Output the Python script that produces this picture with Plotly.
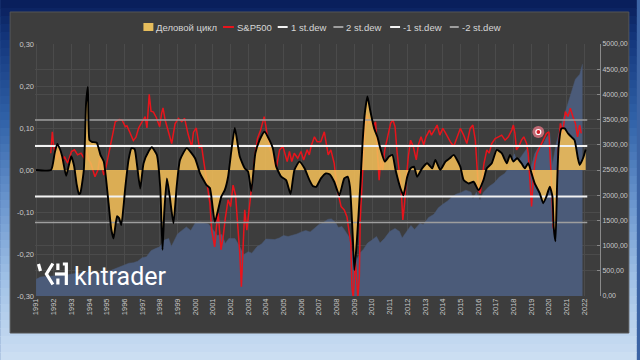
import plotly.graph_objects as go

# ---------------- data ----------------
years = list(range(1991, 2023))
year_labels = [str(y) for y in years]

left_ticks = [-0.3, -0.2, -0.1, 0.0, 0.1, 0.2, 0.3]
left_labels = ["-0,30", "-0,20", "-0,10", "0,00", "0,10", "0,20", "0,30"]
right_ticks = list(range(0, 5001, 500))
right_labels = [f"{v},00" for v in right_ticks]

# business cycle (Деловой цикл)
cycle_x = [1991.0, 1991.85, 1992.05, 1992.2, 1992.35, 1992.48, 1992.7, 1992.85, 1992.99, 1993.15,
           1993.3, 1993.42, 1993.5, 1993.7, 1993.83, 1993.93, 1994.02, 1994.15, 1994.43, 1994.64,
           1994.83, 1995.1, 1995.25, 1995.38, 1995.58, 1995.7, 1995.82, 1996.05, 1996.23, 1996.4,
           1996.57, 1996.7, 1996.89, 1997.08, 1997.36, 1997.55, 1997.83, 1998.02, 1998.15, 1998.25,
           1998.4, 1998.55, 1998.77, 1998.95, 1999.14, 1999.52, 1999.99, 2000.27, 2000.64, 2000.83,
           2001.11, 2001.48, 2001.67, 2001.86, 2002.05, 2002.24, 2002.52, 2002.8, 2002.99, 2003.17,
           2003.4, 2003.64, 2003.92, 2004.2, 2004.39, 2004.58, 2004.86, 2005.14, 2005.39, 2005.61,
           2005.89, 2006.18, 2006.46, 2006.65, 2006.84, 2007.11, 2007.39, 2007.6, 2007.86, 2008.15,
           2008.43, 2008.62, 2008.75, 2008.91, 2009.0, 2009.14, 2009.33, 2009.46, 2009.59, 2009.74,
           2009.89, 2010.12, 2010.3, 2010.49, 2010.72, 2010.96, 2011.15, 2011.33, 2011.61, 2011.77,
           2011.99, 2012.18, 2012.37, 2012.55, 2012.83, 2013.12, 2013.4, 2013.58, 2013.86, 2014.15,
           2014.4, 2014.62, 2014.99, 2015.18, 2015.46, 2015.74, 2016.02, 2016.3, 2016.49, 2016.77,
           2017.05, 2017.33, 2017.62, 2017.8, 2017.99, 2018.2, 2018.45, 2018.64, 2018.83, 2019.02,
           2019.2, 2019.49, 2019.68, 2019.86, 2020.05, 2020.2, 2020.27, 2020.37, 2020.46, 2020.55,
           2020.71, 2020.89, 2021.08, 2021.27, 2021.45, 2021.64, 2021.74, 2021.93, 2022.08]
cycle_y = [0.0, 0.0, 0.04, 0.062, 0.05, 0.032, -0.014, 0.01, 0.033, 0.01,
           -0.035, -0.057, -0.055, 0.0, 0.16, 0.198, 0.071, 0.067, 0.065, 0.036,
           0.02, -0.079, -0.14, -0.163, -0.11, -0.115, -0.131, -0.04, 0.024, 0.052,
           0.05, 0.015, -0.044, 0.016, 0.044, 0.054, 0.036, -0.04, -0.19, -0.1,
           -0.02, -0.06, -0.127, -0.04, 0.024, 0.052, 0.028, -0.008, -0.036, -0.043,
           -0.123, -0.063, -0.048, -0.016, 0.048, 0.1, 0.032, 0.004, -0.004, -0.05,
           0.04, 0.071, 0.091, 0.071, 0.052, 0.008, -0.016, -0.024, -0.057, 0.0,
           0.02, 0.004, -0.024, -0.038, -0.04, -0.02, -0.008, -0.01, -0.028, -0.06,
           -0.02, -0.016, -0.04, -0.159, -0.238, -0.17, -0.04, 0.063, 0.135, 0.175,
           0.143, 0.099, 0.079, 0.048, 0.02, 0.032, 0.036, 0.0, -0.044, -0.06,
           -0.016, 0.004, 0.008, -0.016, 0.004, 0.016, 0.004, 0.024, 0.0, 0.02,
           0.028, 0.036, 0.008, -0.024, -0.032, -0.028, -0.048, -0.024, 0.004, 0.016,
           0.048, 0.04, 0.016, 0.036, 0.02, 0.028, 0.016, 0.004, 0.016, -0.008,
           -0.032, -0.056, -0.079, -0.063, -0.04, -0.063, -0.135, -0.17, -0.04, 0.056,
           0.099, 0.099, 0.087, 0.079, 0.071, 0.028, 0.012, 0.028, 0.049]

# S&P500 change (red line, left axis)
spx_chg_x = [1991.83, 1991.92, 1992.0, 1992.2, 1992.3, 1992.43, 1992.6, 1992.79, 1993.0, 1993.17,
             1993.35, 1993.54, 1993.72, 1993.85, 1993.97, 1994.1, 1994.33, 1994.5, 1994.6, 1994.7,
             1994.83, 1994.97, 1995.1, 1995.29, 1995.48, 1995.7, 1995.86, 1996.05, 1996.14, 1996.3,
             1996.5, 1996.65, 1996.8, 1997.0, 1997.17, 1997.27, 1997.4, 1997.5, 1997.64, 1997.8,
             1997.99, 1998.1, 1998.18, 1998.3, 1998.5, 1998.67, 1998.86, 1999.05, 1999.24, 1999.4,
             1999.6, 1999.8, 1999.9, 2000.06, 2000.24, 2000.35, 2000.5, 2000.65, 2000.83, 2000.93,
             2001.1, 2001.2, 2001.3, 2001.46, 2001.58, 2001.7, 2001.86, 2002.0, 2002.14, 2002.28,
             2002.42, 2002.52, 2002.61, 2002.7, 2002.8, 2002.92, 2003.05, 2003.23, 2003.37, 2003.52,
             2003.7, 2003.9, 2004.0, 2004.1, 2004.25, 2004.4, 2004.58, 2004.77, 2004.96, 2005.05,
             2005.2, 2005.33, 2005.46, 2005.6, 2005.8, 2005.98, 2006.13, 2006.33, 2006.45, 2006.55,
             2006.74, 2006.9, 2007.1, 2007.3, 2007.42, 2007.52, 2007.67, 2007.86, 2008.0, 2008.15,
             2008.25, 2008.43, 2008.58, 2008.8, 2008.86, 2008.94, 2009.05, 2009.2, 2009.28, 2009.33,
             2009.46, 2009.59, 2009.7, 2009.83, 2009.96, 2010.08, 2010.2, 2010.3, 2010.4, 2010.49,
             2010.6, 2010.72, 2010.9, 2011.05, 2011.18, 2011.3, 2011.42, 2011.55, 2011.65, 2011.74,
             2011.84, 2011.93, 2012.05, 2012.18, 2012.33, 2012.5, 2012.62, 2012.77, 2012.92, 2013.05,
             2013.25, 2013.36, 2013.5, 2013.68, 2013.83, 2014.0, 2014.13, 2014.27, 2014.43, 2014.62,
             2014.8, 2014.99, 2015.18, 2015.36, 2015.55, 2015.7, 2015.84, 2015.93, 2016.02, 2016.12,
             2016.2, 2016.33, 2016.49, 2016.62, 2016.77, 2016.96, 2017.15, 2017.33, 2017.52, 2017.71,
             2017.9, 2017.99, 2018.08, 2018.17, 2018.3, 2018.45, 2018.58, 2018.74, 2018.83, 2018.92,
             2019.02, 2019.1, 2019.2, 2019.33, 2019.49, 2019.68, 2019.86, 2020.0, 2020.14, 2020.24,
             2020.33, 2020.43, 2020.53, 2020.65, 2020.78, 2020.93, 2021.08, 2021.21, 2021.36, 2021.5,
             2021.62, 2021.74, 2021.83]
spx_chg_y = [0.04, 0.091, 0.055, 0.024, 0.048, 0.016, 0.032, 0.016, 0.044, 0.048,
             0.036, 0.04, 0.028, 0.048, 0.024, 0.016, -0.016, 0.0, 0.028, 0.01,
             -0.012, 0.01, 0.036, 0.079, 0.115, 0.12, 0.119, 0.103, 0.105, 0.09,
             0.07, 0.078, 0.1, 0.115, 0.127, 0.1, 0.18, 0.14, 0.138, 0.125,
             0.103, 0.135, 0.148, 0.119, 0.087, 0.063, 0.11, 0.123, 0.115, 0.123,
             0.085, 0.055, 0.09, 0.1, 0.052, 0.06, 0.016, -0.024, -0.079, -0.143,
             -0.183, -0.135, -0.103, -0.19, -0.159, -0.115, -0.071, -0.087, -0.036, -0.06,
             -0.135, -0.198, -0.278, -0.206, -0.095, -0.143, -0.087, -0.024, 0.032, 0.075,
             0.095, 0.127, 0.103, 0.075, 0.048, 0.024, 0.004, 0.048, 0.056, 0.04,
             0.02, 0.044, 0.02, 0.04, 0.028, 0.044, 0.024, 0.048, 0.036, 0.056,
             0.079, 0.067, 0.067, 0.091, 0.06, 0.036, 0.048, 0.016, -0.04, -0.071,
             -0.087, -0.095, -0.111, -0.175, -0.278, -0.305, -0.21, -0.305, -0.254, -0.119,
             0.0, 0.095, 0.131, 0.111, 0.123, 0.103, 0.115, 0.04, -0.024, 0.024,
             0.0, 0.048, 0.079, 0.111, 0.119, 0.103, 0.04, -0.008, -0.048, -0.119,
             -0.079, -0.024, 0.032, 0.071, 0.056, 0.024, 0.06, 0.079, 0.06, 0.079,
             0.095, 0.083, 0.095, 0.107, 0.083, 0.099, 0.09, 0.079, 0.067, 0.056,
             0.079, 0.099, 0.083, 0.063, 0.099, 0.107, 0.071, 0.0, -0.048, -0.056,
             -0.024, 0.016, 0.048, 0.04, 0.063, 0.075, 0.079, 0.083, 0.071, 0.079,
             0.095, 0.107, 0.087, 0.048, 0.056, 0.071, 0.079, 0.063, 0.04, -0.024,
             -0.087, -0.032, 0.016, 0.04, 0.056, 0.071, 0.087, 0.091, -0.024, -0.135,
             -0.151, -0.071, 0.048, 0.111, 0.087, 0.139, 0.127, 0.147, 0.127, 0.111,
             0.079, 0.107, 0.087]

# S&P500 level (blue area, right axis)
spx_x = [1991.0, 1991.25, 1991.5, 1991.75, 1992.0, 1992.25, 1992.5, 1992.75, 1993.0, 1993.25,
         1993.5, 1993.75, 1994.0, 1994.25, 1994.5, 1994.75, 1995.0, 1995.25, 1995.5, 1995.75,
         1996.0, 1996.25, 1996.5, 1996.75, 1997.0, 1997.25, 1997.5, 1997.75, 1998.0, 1998.25,
         1998.5, 1998.65, 1998.75, 1999.0, 1999.25, 1999.5, 1999.75, 2000.0, 2000.25, 2000.5,
         2000.75, 2001.0, 2001.25, 2001.5, 2001.7, 2001.9, 2002.25, 2002.5, 2002.75, 2003.0,
         2003.2, 2003.5, 2003.75, 2004.0, 2004.25, 2004.5, 2004.75, 2005.0, 2005.25, 2005.5,
         2005.75, 2006.0, 2006.25, 2006.5, 2006.75, 2007.0, 2007.25, 2007.5, 2007.7, 2007.9,
         2008.1, 2008.3, 2008.5, 2008.7, 2008.85, 2009.0, 2009.17, 2009.35, 2009.5, 2009.75,
         2010.0, 2010.25, 2010.45, 2010.7, 2011.0, 2011.3, 2011.55, 2011.7, 2011.9, 2012.2,
         2012.4, 2012.7, 2012.9, 2013.2, 2013.5, 2013.75, 2014.0, 2014.25, 2014.5, 2014.75,
         2015.0, 2015.3, 2015.6, 2015.7, 2015.9, 2016.1, 2016.3, 2016.6, 2016.9, 2017.2,
         2017.5, 2017.8, 2018.05, 2018.2, 2018.5, 2018.75, 2018.95, 2019.2, 2019.4, 2019.6,
         2019.85, 2020.05, 2020.2, 2020.4, 2020.6, 2020.85, 2021.0, 2021.25, 2021.5, 2021.75,
         2021.9]
spx_y = [330, 375, 385, 390, 410, 410, 420, 415, 435, 445,
         450, 460, 475, 450, 455, 465, 465, 510, 550, 585,
         615, 650, 660, 690, 760, 780, 900, 940, 975, 1110,
         1140, 980, 1050, 1230, 1300, 1370, 1300, 1450, 1470, 1450,
         1430, 1320, 1200, 1220, 1040, 1140, 1140, 990, 820, 880,
         850, 980, 1030, 1130, 1130, 1120, 1150, 1200, 1180, 1200,
         1230, 1270, 1300, 1270, 1350, 1420, 1460, 1520, 1530, 1470,
         1360, 1380, 1280, 1170, 900, 860, 740, 870, 920, 1050,
         1110, 1180, 1050, 1140, 1280, 1340, 1280, 1150, 1250, 1400,
         1320, 1440, 1420, 1560, 1620, 1750, 1820, 1880, 1960, 2020,
         2050, 2100, 2060, 1920, 2060, 1900, 2060, 2170, 2240, 2360,
         2430, 2580, 2820, 2650, 2800, 2920, 2500, 2820, 2950, 2950,
         3140, 3230, 2600, 3000, 3280, 3550, 3720, 4000, 4300, 4400,
         4600]

# standard-deviation bands
stdev_x = [1990.94, 2022.17]
stdev_1 = 0.057
stdev_2 = 0.119
stdev_m1 = -0.063
stdev_m2 = -0.125

# ---------------- geometry helpers (layout only) ----------------
W, H = 640, 360
L, R, T, B = 35, 603, 44, 296


def px(xp):
    return (xp - L) / (R - L)


def py(yp):
    return (B - yp) / (B - T)


YELLOW = "rgba(246,192,88,0.86)"
RED = "#e8141c"
WHITE = "#f2f2f2"
GREY = "#9e9e9e"
BLUE = "#4b5b79"
PANEL = "#3d3d3d"
TXT = "#c8c8c8"

fig = go.Figure()

fig.add_trace(go.Scatter(x=spx_x, y=spx_y, yaxis="y", mode="lines", fill="tozeroy",
                         fillcolor=BLUE, line=dict(color=BLUE, width=0.5), name="S&P500 level"))
fig.add_trace(go.Scatter(x=spx_chg_x, y=spx_chg_y, yaxis="y2", mode="lines",
                         line=dict(color=RED, width=1.5), name="S&P500"))
fig.add_trace(go.Scatter(x=cycle_x, y=cycle_y, yaxis="y2", mode="lines", fill="tozeroy",
                         fillcolor=YELLOW, line=dict(width=0, shape="spline", smoothing=0.5),
                         name="Деловой цикл"))
fig.add_trace(go.Scatter(x=stdev_x, y=[stdev_2] * 2, yaxis="y2", mode="lines",
                         line=dict(color=GREY, width=1.5), name="2 st.dew"))
fig.add_trace(go.Scatter(x=stdev_x, y=[stdev_1] * 2, yaxis="y2", mode="lines",
                         line=dict(color=WHITE, width=2), name="1 st.dew"))
fig.add_trace(go.Scatter(x=stdev_x, y=[stdev_m1] * 2, yaxis="y2", mode="lines",
                         line=dict(color=WHITE, width=2), name="-1 st.dew"))
fig.add_trace(go.Scatter(x=stdev_x, y=[stdev_m2] * 2, yaxis="y2", mode="lines",
                         line=dict(color=GREY, width=1.5), name="-2 st.dew"))
fig.add_trace(go.Scatter(x=cycle_x, y=cycle_y, yaxis="y2", mode="lines",
                         line=dict(color="#000000", width=1.9, shape="spline", smoothing=0.5),
                         name="Деловой цикл (line)"))

# ---------------- background: gradient + dark panel ----------------
shapes = []
stops = [(0, (8, 28, 88)), (40, (20, 55, 125)), (120, (48, 98, 168)),
         (200, (105, 148, 205)), (280, (160, 193, 230)), (360, (205, 223, 243))]


def grad(yv):
    for (y0, c0), (y1, c1) in zip(stops[:-1], stops[1:]):
        if y0 <= yv <= y1:
            t = (yv - y0) / (y1 - y0)
            return "rgb(%d,%d,%d)" % tuple(round(a + (b - a) * t) for a, b in zip(c0, c1))
    return "rgb(205,223,243)"


step = 8
for ys in range(0, H, step):
    shapes.append(dict(type="rect", xref="paper", yref="paper", layer="below",
                       x0=px(0), x1=px(W), y0=py(ys + step + 0.5), y1=py(ys),
                       fillcolor=grad(ys + step / 2), line=dict(width=0)))
shapes.append(dict(type="rect", xref="paper", yref="paper", layer="below",
                   x0=px(10), x1=px(632), y0=py(333), y1=py(12),
                   fillcolor=PANEL, line=dict(color="#555555", width=1)))

# ---------------- custom legend ----------------
annotations = []
leg_y = 27
shapes.append(dict(type="rect", xref="paper", yref="paper", x0=px(144), x1=px(154),
                   y0=py(31), y1=py(23), fillcolor="#e6bd5c", line=dict(width=0)))
legend_items = [
    (155, "Деловой цикл", None, None),
    (236, "S&P500", (224, 235), RED),
    (290, "1 st.dew", (279, 289), WHITE),
    (346, "2 st.dew", (335, 345), GREY),
    (403, "-1 st.dew", (392, 402), WHITE),
    (462, "-2 st.dew", (452, 461), GREY),
]
for tx, label, seg, col in legend_items:
    if seg:
        shapes.append(dict(type="line", xref="paper", yref="paper", x0=px(seg[0]), x1=px(seg[1]),
                           y0=py(leg_y), y1=py(leg_y), line=dict(color=col, width=2)))
    annotations.append(dict(xref="paper", yref="paper", x=px(tx), y=py(leg_y), text=label,
                            showarrow=False, xanchor="left", yanchor="middle",
                            font=dict(family="Liberation Sans", size=9.5, color="#d6d6d6")))

# ---------------- logo ----------------
icon_paths = [
    [(38.5, 264), (40.5, 271)],
    [(53, 263.5), (46.5, 274), (53, 284.5)],
    [(58, 263.5), (58, 270)],
    [(58, 278.5), (58, 284.5)],
    [(55, 274), (66, 274)],
    [(63, 264), (66.5, 264), (66.5, 285)],
]
for pts in icon_paths:
    d = "M " + " L ".join(f"{px(a):.5f},{py(b):.5f}" for a, b in pts)
    shapes.append(dict(type="path", xref="paper", yref="paper", path=d,
                       line=dict(color="white", width=3.2)))
annotations.append(dict(xref="paper", yref="paper", x=px(72), y=py(276), text="khtrader",
                        showarrow=False, xanchor="left", yanchor="middle",
                        font=dict(family="Roboto", size=25, color="white")))

# cursor highlight
shapes.append(dict(type="circle", xref="paper", yref="paper", x0=px(535), x1=px(547),
                   y0=py(138), y1=py(126), fillcolor="rgba(235,120,135,0.75)",
                   line=dict(width=0)))
shapes.append(dict(type="circle", xref="paper", yref="paper", x0=px(538.5), x1=px(543.5),
                   y0=py(134.5), y1=py(129.5), fillcolor="#d0202a",
                   line=dict(color="white", width=1.2)))

fig.update_layout(
    width=W, height=H,
    margin=dict(l=L, r=W - R, t=T, b=H - B, pad=0),
    paper_bgcolor="rgb(60,100,165)",
    plot_bgcolor="rgba(0,0,0,0)",
    showlegend=False,
    shapes=shapes,
    annotations=annotations,
    font=dict(family="Liberation Sans", color=TXT),
    xaxis=dict(range=[1990.94, 2022.89], tickvals=years, ticktext=year_labels,
               tickangle=-90, tickfont=dict(size=7.5, color=TXT), showgrid=True,
               gridcolor="#4b4b4b", gridwidth=1, zeroline=False, showline=False, ticks=""),
    yaxis=dict(range=[0, 5000], side="right", tickvals=right_ticks, ticktext=right_labels,
               tickfont=dict(size=7, color=TXT), showgrid=True, gridcolor="#4b4b4b",
               zeroline=False, showline=True, linecolor="#8a8a8a", linewidth=1,
               ticks="inside", ticklen=3, tickcolor="#8a8a8a"),
    yaxis2=dict(range=[-0.3, 0.3], overlaying="y", side="left", tickvals=left_ticks,
                ticktext=left_labels, tickfont=dict(size=7.5, color=TXT), showgrid=True,
                gridcolor="#4b4b4b", zeroline=False, showline=False, ticks=""),
)

fig.write_html("out.html")
